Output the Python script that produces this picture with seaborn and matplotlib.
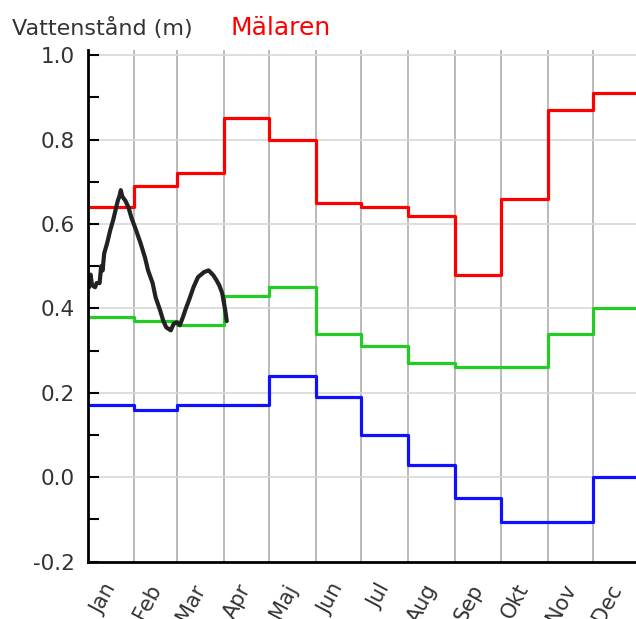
import pandas as pd
import matplotlib
matplotlib.use("Agg")
import matplotlib.pyplot as plt
import seaborn as sns

# month boundaries (day of year) and labels
month_start = [0, 31, 59, 90, 120, 151, 181, 212, 243, 273, 304, 334, 365]
month_names = ["Jan", "Feb", "Mar", "Apr", "Maj", "Jun", "Jul", "Aug", "Sep", "Okt", "Nov", "Dec"]

# monthly levels (m)
high_level = [0.64, 0.69, 0.72, 0.85, 0.80, 0.65, 0.64, 0.62, 0.48, 0.66, 0.87, 0.91]
mid_level = [0.38, 0.37, 0.36, 0.43, 0.45, 0.34, 0.31, 0.27, 0.26, 0.26, 0.34, 0.40]
low_level = [0.17, 0.16, 0.17, 0.17, 0.24, 0.19, 0.10, 0.03, -0.05, -0.105, -0.105, 0.0]

# current year observations
obs_day = [0, 1, 2, 3, 5, 6, 8, 9, 10, 11, 13, 15, 17, 18, 20, 21, 22, 23, 25, 27, 29, 32,
           35, 38, 40, 43, 45, 48, 50, 52, 55, 57, 59, 61, 63, 65, 67, 70, 73, 77, 80, 83,
           85, 87, 89, 91, 92]
obs_level = [0.47, 0.45, 0.48, 0.455, 0.45, 0.46, 0.46, 0.50, 0.49, 0.53, 0.555, 0.585, 0.61,
             0.625, 0.655, 0.665, 0.68, 0.665, 0.655, 0.64, 0.615, 0.586, 0.555, 0.52, 0.49,
             0.46, 0.426, 0.395, 0.371, 0.355, 0.348, 0.364, 0.367, 0.36, 0.379, 0.40, 0.419,
             0.45, 0.474, 0.486, 0.49, 0.479, 0.468, 0.455, 0.436, 0.395, 0.37]


def step_frame(values):
    return pd.DataFrame({"day": month_start, "level": values + [values[-1]]})


sns.set_style("white")
plt.rcParams["font.family"] = ["DejaVu Sans"]

fig = plt.figure(figsize=(6.36, 6.19), dpi=100)
ax = fig.add_axes([0.1376, 0.0926, 0.8687, 0.8266])

for vals, col in [(high_level, "#ff0000"), (mid_level, "#22cc22"), (low_level, "#1010ff")]:
    sns.lineplot(data=step_frame(vals), x="day", y="level", ax=ax, color=col,
                 linewidth=2.3, drawstyle="steps-post")

obs = pd.DataFrame({"day": obs_day, "level": obs_level})
sns.lineplot(data=obs, x="day", y="level", ax=ax, color="#222222", linewidth=3)

ax.set_xlim(0, 365)
ax.set_ylim(-0.2, 1.012)

# vertical grid at month boundaries
for d in month_start[1:-1]:
    ax.axvline(d, color="#b4b4b4", linewidth=1.3, zorder=0)
for y in [0.0, 0.2, 0.4, 0.6, 0.8, 1.0]:
    ax.axhline(y, color="#d8d8d8", linewidth=1.2, zorder=0)

mid = [(a + b) / 2 for a, b in zip(month_start[:-1], month_start[1:])]
ax.set_xticks(mid)
ax.set_xticklabels(month_names, rotation=62, ha="right", va="center",
                   rotation_mode="anchor", fontsize=15)
ax.tick_params(axis="x", length=0, pad=17, colors="#333333")

ax.set_yticks([-0.2, 0.0, 0.2, 0.4, 0.6, 0.8, 1.0])
ax.set_yticklabels(["-0.2", "0.0", "0.2", "0.4", "0.6", "0.8", "1.0"], fontsize=15.5)
ax.set_yticks([-0.1, 0.1, 0.3, 0.5, 0.7, 0.9], minor=True)
ax.tick_params(axis="y", which="both", direction="in", length=8, width=1.5,
               color="black", labelcolor="#333333", pad=9, left=True)

ax.set_xlabel("")
ax.set_ylabel("")
for side in ["top", "right"]:
    ax.spines[side].set_visible(False)
for side in ["left", "bottom"]:
    ax.spines[side].set_color("black")
    ax.spines[side].set_linewidth(2)

fig.text(0.019, 0.943, "Vattenstånd (m)", fontsize=16, color="#333333")
fig.text(0.362, 0.943, "Mälaren", fontsize=18, color="#ff0000")

fig.savefig("out.png", dpi=100)
